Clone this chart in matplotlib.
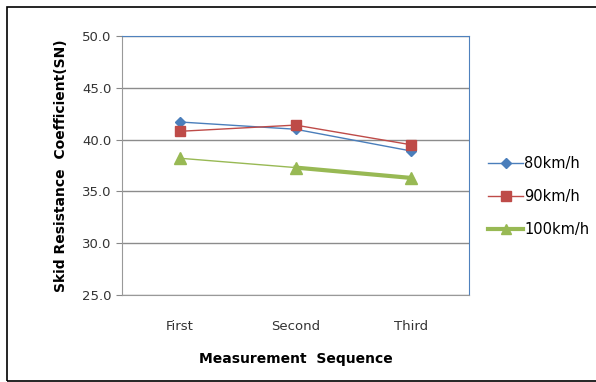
import matplotlib.pyplot as plt
from matplotlib.patches import Rectangle

categories = ['First', 'Second', 'Third']
sn_80 = [41.7, 41.0, 38.9]
sn_90 = [40.8, 41.4, 39.5]
sn_100 = [38.2, 37.3, 36.3]

plt.rcParams['font.family'] = 'DejaVu Sans'

fig = plt.figure(figsize=(5.96, 3.82), dpi=100)
fig.patches.append(Rectangle((7/596, 0.003), 1.1, 1 - 7/382 - 0.003,
                             transform=fig.transFigure, fill=False,
                             edgecolor='black', linewidth=1.2))

ax = fig.add_axes([122/596, 1 - 295/382, 347/596, 259/382])
x = range(len(categories))

ax.plot(x, sn_80, color='#4a7ebb', marker='D', markersize=5, linewidth=1, label='80km/h')
ax.plot(x, sn_90, color='#be4b48', marker='s', markersize=7, linewidth=1, label='90km/h')
ax.plot(x, sn_100, color='#98b954', marker='^', markersize=8, linewidth=1)
ax.plot(list(x)[1:], sn_100[1:], color='#98b954', linewidth=3)
ax.plot([], [], color='#98b954', marker='^', markersize=7, linewidth=3, label='100km/h')

ax.set_xlim(-0.5, 2.5)
ax.set_ylim(25, 50)
ax.set_yticks([25, 30, 35, 40, 45, 50])
ax.set_yticklabels([f'{v:.1f}' for v in [25, 30, 35, 40, 45, 50]])
ax.set_xticks(list(x))
ax.set_xticklabels(categories)
ax.tick_params(axis='x', length=0, pad=18, labelsize=9.5, colors='#333333')
ax.tick_params(axis='y', length=4, color='#888888', labelsize=9.5, colors='#333333')
ax.yaxis.grid(True, color='#8c8c8c', linewidth=1)
ax.set_axisbelow(True)

for s in ['left', 'bottom']:
    ax.spines[s].set_color('#999999')
for s in ['top', 'right']:
    ax.spines[s].set_color('#4f81bd')
    ax.spines[s].set_linewidth(0.8)

ax.set_xlabel('Measurement  Sequence', fontsize=10, fontweight='bold', labelpad=14)
ax.set_ylabel('Skid Resistance  Coefficient(SN)', fontsize=10, fontweight='bold', labelpad=10)

ax.legend(loc='center left', bbox_to_anchor=(1.017, 0.38), frameon=False, fontsize=10.5,
          handlelength=2.4, handletextpad=0.1, labelspacing=1.25)

fig.savefig('out.png', dpi=100)
